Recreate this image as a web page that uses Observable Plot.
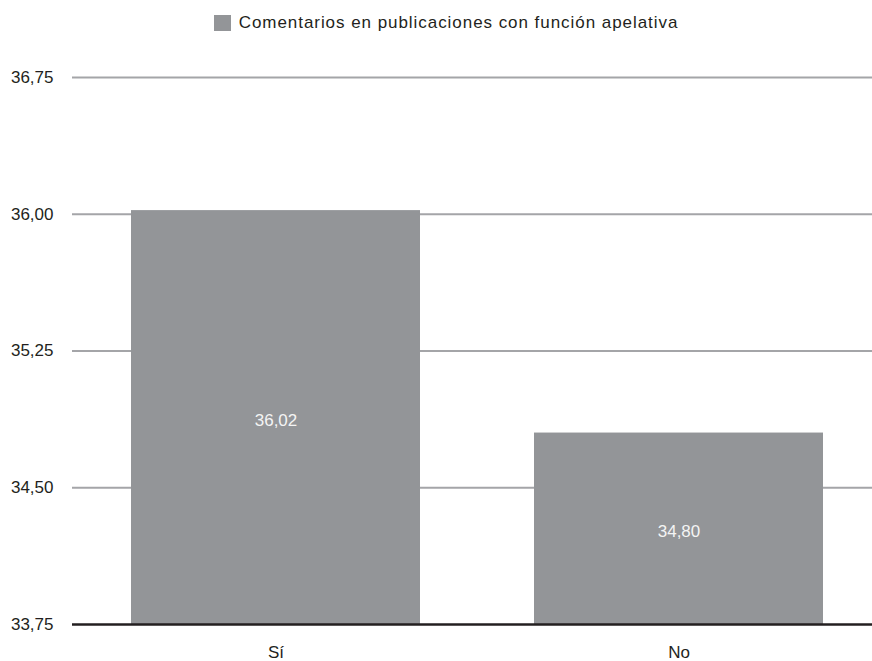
<!DOCTYPE html>
<html>
<head>
<meta charset="utf-8">
<script src="https://cdn.jsdelivr.net/npm/d3@7"></script>
<script src="https://cdn.jsdelivr.net/npm/@observablehq/plot@0.6"></script>
<style>
  body { margin: 0; background: #fff; font-family: "Liberation Sans", Arial, sans-serif; }
  #legend { height: 36px; display: flex; align-items: center; justify-content: center; padding-top: 10px; padding-left: 20px; box-sizing: border-box; color: #231f20; font-size: 17px; letter-spacing: 0.95px; }
  #legend .sw { width: 17px; height: 16px; background: #939598; margin-right: 8px; }
  #chart svg { display: block; }
</style>
</head>
<body>
<div id="legend"><span class="sw"></span><span>Comentarios en publicaciones con función apelativa</span></div>
<div id="chart"></div>
<script>
const categories = ["Sí", "No"];
const values = [36.02, 34.80];
const yTicks = [33.75, 34.50, 35.25, 36.00, 36.75];
const seriesName = "Comentarios en publicaciones con función apelativa";

const data = categories.map((c, i) => ({category: c, value: values[i]}));
const fmt = d => d.toFixed(2).replace(".", ",");
const base = yTicks[0];

const chart = Plot.plot({
  width: 872,
  height: 625,
  marginLeft: 72,
  marginRight: 0,
  marginTop: 41,
  marginBottom: 37,
  style: {fontFamily: "Liberation Sans, Arial, sans-serif", fontSize: "17px", color: "#231f20", background: "#fff"},
  x: {domain: categories, paddingInner: 0.284, paddingOuter: 0.133, align: 0.548, label: null},
  y: {domain: [yTicks[0], yTicks[yTicks.length - 1]], label: null},
  marks: [
    Plot.gridY(yTicks.slice(1), {stroke: "#a4a5a8", strokeOpacity: 1, strokeWidth: 2.2}),
    Plot.barY(data, {x: "category", y1: base, y2: "value", fill: "#939598"}),
    Plot.text(data, {x: "category", y: d => (base + d.value) / 2, text: d => fmt(d.value), fill: "#f4f4f4", fontSize: 17, dy: 3}),
    Plot.ruleY([base], {stroke: "#231f20", strokeWidth: 2.5}),
    Plot.axisY(yTicks, {tickSize: 0, tickPadding: 19, tickFormat: fmt, fontSize: 17, fill: "#231f20"}),
    Plot.axisX({tickSize: 0, tickPadding: 21, fontSize: 17, fill: "#231f20"})
  ]
});
document.getElementById("chart").appendChild(chart);
</script>
</body>
</html>
